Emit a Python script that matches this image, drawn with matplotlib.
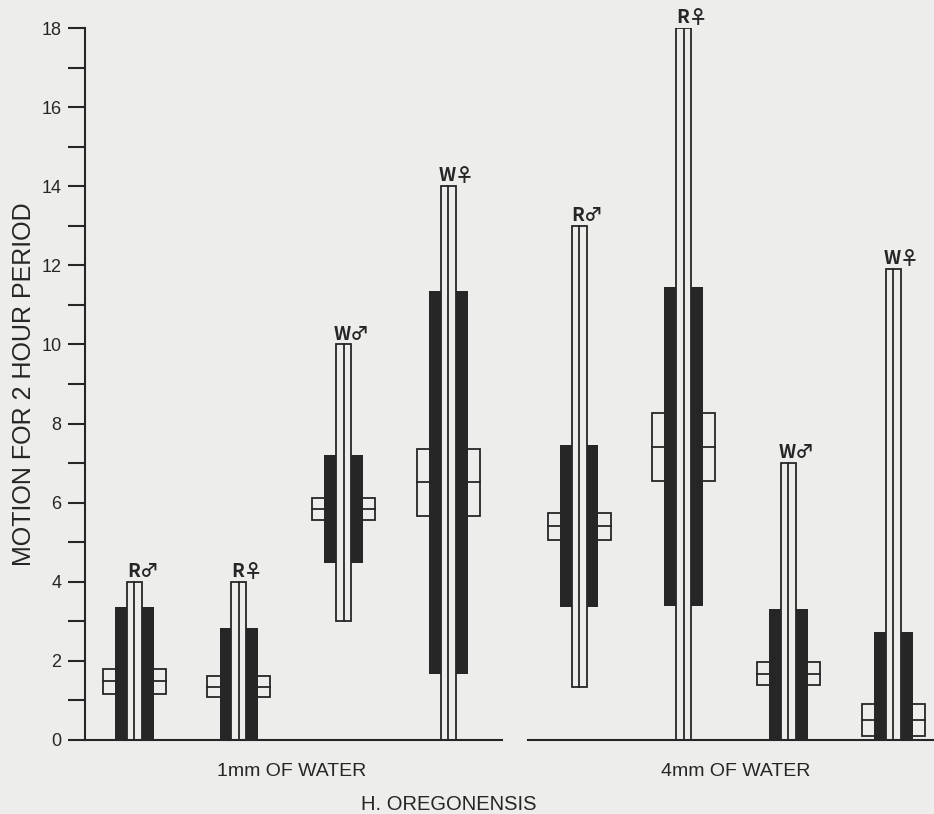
import matplotlib
matplotlib.use('Agg')
import matplotlib.pyplot as plt
from matplotlib.patches import Rectangle
from matplotlib.ticker import MultipleLocator

# Data (one column per sex / stock)
labels = ['R\u2642', 'R\u2640', 'W\u2642', 'W\u2640', 'R\u2642', 'R\u2640', 'W\u2642', 'W\u2640']
groups = ['1mm OF WATER', '4mm OF WATER']
means = [1.48, 1.35, 5.84, 6.51, 5.40, 7.41, 1.67, 0.51]
sds = [1.89, 1.47, 1.36, 4.85, 2.05, 4.03, 1.64, 2.23]
se2 = [0.32, 0.27, 0.28, 0.85, 0.34, 0.85, 0.29, 0.40]
mins = [0.0, 0.0, 3.0, 0.0, 1.35, 0.0, 0.0, 0.0]
maxs = [4.0, 4.0, 10.0, 14.0, 13.0, 18.0, 7.0, 11.9]

# Layout
bg = '#ededeb'
ink = '#262626'
gap = 0.25             # extra space between the two water groups
w_range = 0.145        # open (range) bar
w_sd = 0.37            # dark (mean +- SD) bar
w_box = 0.60           # open box (mean +- 2 SE)
lw = 1.3
xs = [i if i < 4 else i + gap for i in range(len(labels))]
sans = ['Liberation Sans', 'DejaVu Sans']
sym = ['Noto Sans CJK JP', 'DejaVu Sans']

fig = plt.figure(figsize=(9.34, 8.14), dpi=100)
fig.patch.set_facecolor(bg)
ax = fig.add_axes([85 / 934, 74 / 814, 849 / 934, 712 / 814])
ax.set_facecolor(bg)

for x, lab, m, sd, se, lo, hi in zip(xs, labels, means, sds, se2, mins, maxs):
    # open box with mean line
    ax.add_patch(Rectangle((x - w_box / 2, m - se), w_box, 2 * se,
                           facecolor=bg, edgecolor=ink, lw=lw, zorder=1))
    ax.plot([x - w_box / 2, x + w_box / 2], [m, m], color=ink, lw=lw, zorder=1)
    # dark standard deviation bar (clipped at zero)
    lo_sd = max(0.0, m - sd)
    ax.add_patch(Rectangle((x - w_sd / 2, lo_sd), w_sd, m + sd - lo_sd,
                           facecolor=ink, edgecolor='none', zorder=2))
    # open range bar with the centre line
    ax.add_patch(Rectangle((x - w_range / 2, lo), w_range, hi - lo,
                           facecolor=bg, edgecolor=ink, lw=lw, zorder=3))
    ax.plot([x, x], [lo, hi], color=ink, lw=lw, zorder=4)
    ax.text(x + 0.08, hi + 0.02, lab, ha='center', va='bottom', fontsize=13.5,
            fontweight='bold', color=ink, family=sym)

xmin, xmax = -0.47, 7.64
ax.set_xlim(xmin, xmax)
ax.set_ylim(0, 18)

# broken baseline, one piece per group
ax.plot([xmin, 3.515], [0, 0], color=ink, lw=1.5, clip_on=False, zorder=5)
ax.plot([3.764, xmax], [0, 0], color=ink, lw=1.5, clip_on=False, zorder=5)

for s in ['top', 'right', 'bottom']:
    ax.spines[s].set_visible(False)
ax.spines['left'].set_color(ink)
ax.spines['left'].set_linewidth(1.5)
ax.set_xticks([])
ax.yaxis.set_major_locator(MultipleLocator(2))
ax.yaxis.set_minor_locator(MultipleLocator(1))
ax.tick_params(axis='y', which='both', direction='out', length=12, width=1.5,
               color=ink, labelcolor=ink, labelsize=13, pad=5)
for t in ax.get_yticklabels():
    t.set_family(sans)

ax.set_ylabel('MOTION FOR 2 HOUR PERIOD', fontsize=18, color=ink,
              family=sans, labelpad=4)

# group names and species name
ax.text(1.5, -0.8, groups[0], ha='center', va='center', fontsize=14, color=ink, family=sans)
ax.text(5.75, -0.8, groups[1], ha='center', va='center', fontsize=14, color=ink, family=sans)
ax.text(3.0, -1.62, 'H. OREGONENSIS', ha='center', va='center', fontsize=14.5, color=ink,
        family=sans)

fig.savefig('out.png', dpi=100, facecolor=bg)
